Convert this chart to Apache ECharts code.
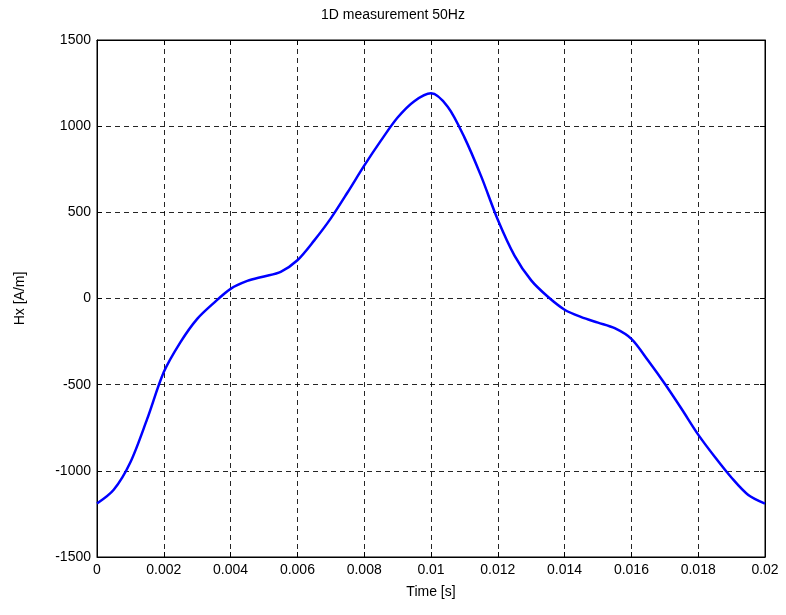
<!DOCTYPE html>
<html>
<head>
<meta charset="utf-8">
<script src="https://cdn.jsdelivr.net/npm/echarts@6/dist/echarts.min.js"></script>
<style>html,body{margin:0;padding:0;background:#fff}#c{width:786px;height:615px}</style>
</head>
<body>
<div id="c"></div>
<script>
var timeS = [0, 0.0005, 0.001, 0.0015, 0.002, 0.0025, 0.003, 0.0035, 0.004, 0.0045, 0.005, 0.0055, 0.006, 0.0065, 0.007, 0.0075, 0.008, 0.0085, 0.009, 0.0095, 0.01, 0.0105, 0.011, 0.0115, 0.012, 0.0125, 0.013, 0.0135, 0.014, 0.0145, 0.015, 0.0155, 0.016, 0.0165, 0.017, 0.0175, 0.018, 0.0185, 0.019, 0.0195, 0.02];
var hx = [-1190, -1110, -950, -700, -427, -253, -118, -25, 56, 102, 128, 155, 222, 336, 465, 615, 771, 916, 1050, 1145, 1191, 1113, 935, 710, 457, 249, 105, 10, -65, -108, -140, -172, -234, -360, -495, -640, -790, -920, -1040, -1140, -1190];
var titleText = '1D measurement 50Hz';
var xName = 'Time [s]';
var yName = 'Hx [A/m]';

var data = timeS.map(function (t, i) { return [t, hx[i]]; });
var font = 'Liberation Sans, Arial, Helvetica, sans-serif';
var chart = echarts.init(document.getElementById('c'), null, {renderer: 'canvas'});
var gridLine = {show: true, lineStyle: {color: '#000', type: [5, 4], width: 1, opacity: 0.85}};
chart.setOption({
  animation: false,
  backgroundColor: '#fff',
  title: {text: titleText, left: 'center', top: 3, textStyle: {fontFamily: font, fontSize: 14, fontWeight: 'normal', color: '#000'}},
  grid: {left: 97, right: 21, top: 40, bottom: 58, show: true, borderColor: '#000', borderWidth: 1, containLabel: false},
  xAxis: [{
    type: 'value', min: 0, max: 0.02, interval: 0.002,
    name: xName, nameLocation: 'middle', nameGap: 28,
    nameTextStyle: {fontFamily: font, fontSize: 14, color: '#000'},
    axisLine: {show: true, onZero: false, lineStyle: {color: '#000'}},
    axisTick: {show: true, inside: true, length: 5, lineStyle: {color: '#000'}},
    axisLabel: {fontFamily: font, fontSize: 14, color: '#000', margin: 6, formatter: function (v) { return String(+v.toFixed(3)); }},
    splitLine: gridLine
  }, {
    type: 'value', position: 'top', min: 0, max: 0.02, interval: 0.002,
    axisLine: {show: true, onZero: false, lineStyle: {color: '#000'}},
    axisTick: {show: true, inside: true, length: 5, lineStyle: {color: '#000'}},
    axisLabel: {show: false}, splitLine: {show: false}
  }],
  yAxis: [{
    type: 'value', min: -1500, max: 1500, interval: 500,
    name: yName, nameLocation: 'middle', nameGap: 70, nameRotate: 90,
    nameTextStyle: {fontFamily: font, fontSize: 14, color: '#000'},
    axisLine: {show: true, onZero: false, lineStyle: {color: '#000'}},
    axisTick: {show: true, inside: true, length: 5, lineStyle: {color: '#000'}},
    axisLabel: {fontFamily: font, fontSize: 14, color: '#000', margin: 6, formatter: function (v) { return String(v); }},
    splitLine: gridLine
  }, {
    type: 'value', position: 'right', min: -1500, max: 1500, interval: 500,
    axisLine: {show: true, onZero: false, lineStyle: {color: '#000'}},
    axisTick: {show: true, inside: true, length: 5, lineStyle: {color: '#000'}},
    axisLabel: {show: false}, splitLine: {show: false}
  }],
  series: [{
    type: 'line', data: data, xAxisIndex: 0, yAxisIndex: 0,
    showSymbol: false, smooth: 0.3,
    lineStyle: {color: '#0000ff', width: 2.5},
    itemStyle: {color: '#0000ff'}
  }]
});
</script>
</body>
</html>
